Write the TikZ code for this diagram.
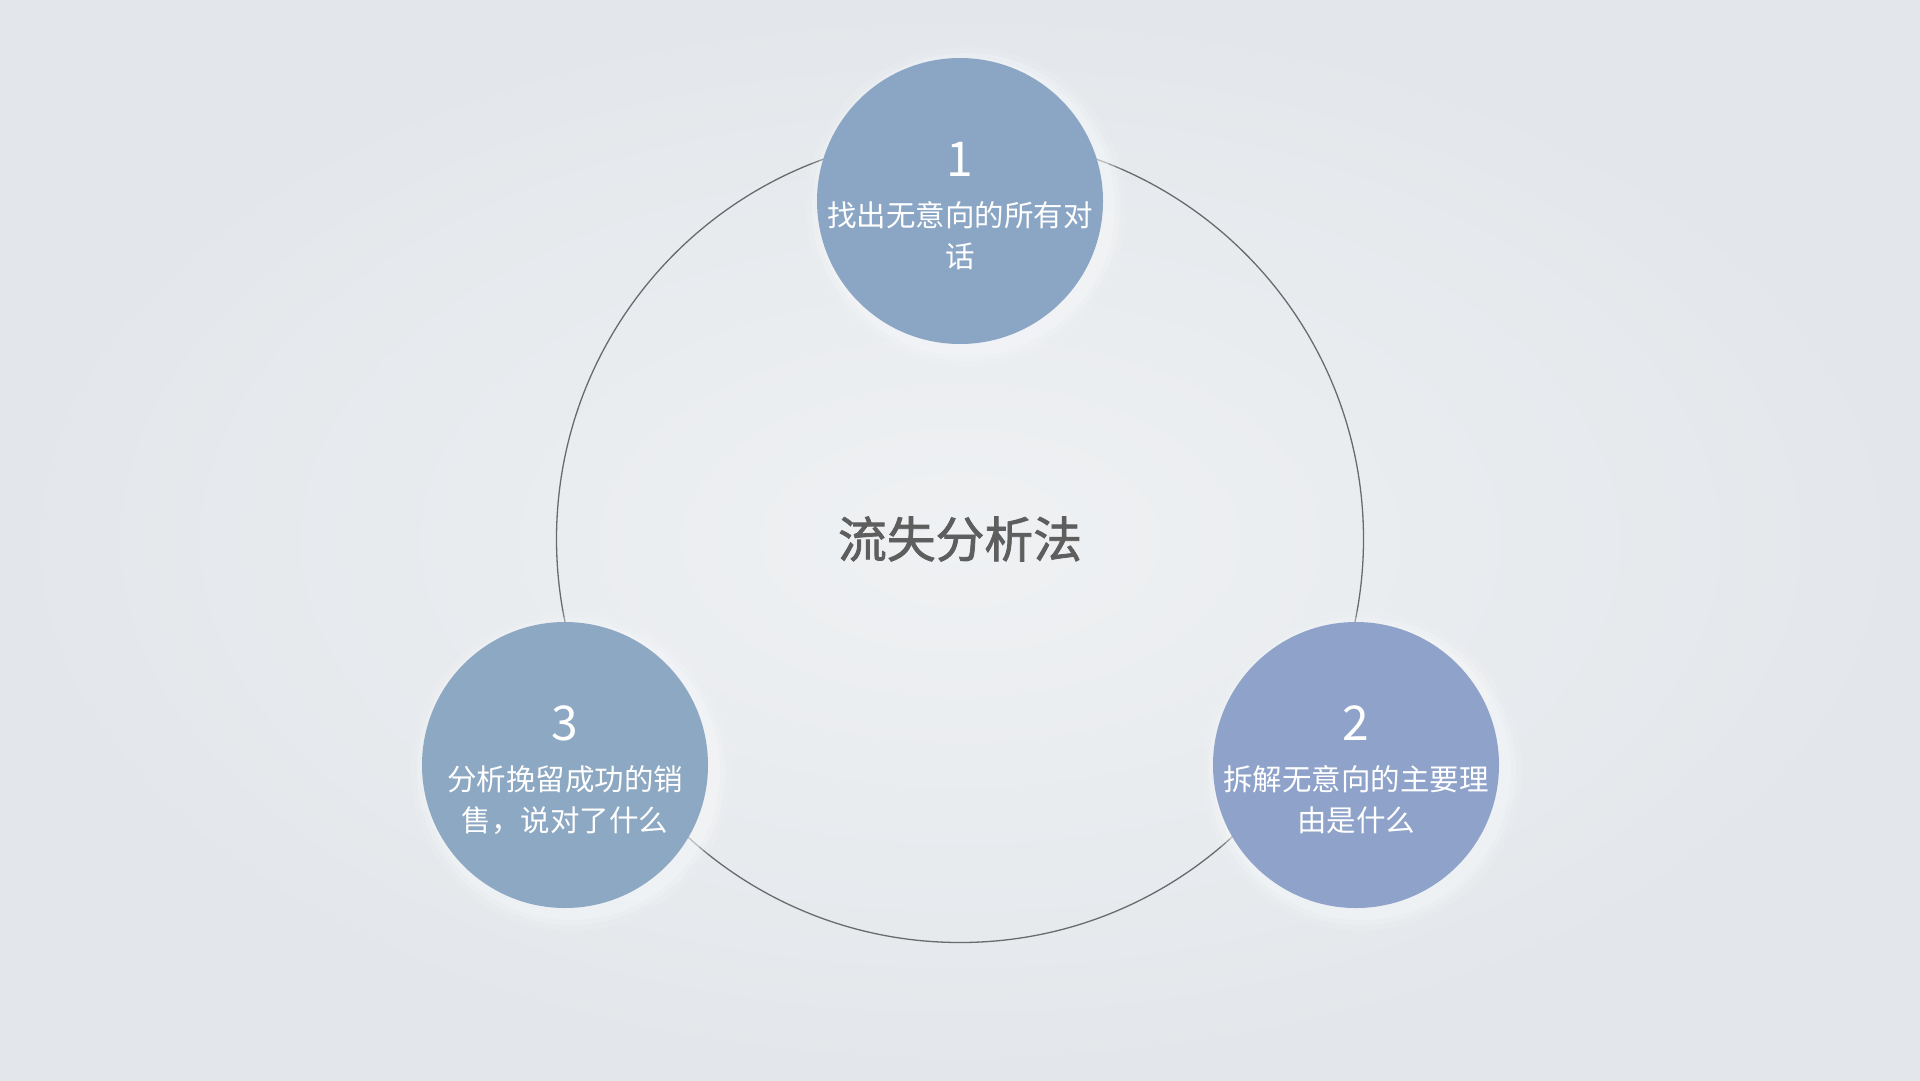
\documentclass[tikz,border=0pt]{standalone}
\usepackage{fontspec}
\setmainfont{Noto Sans CJK SC}
\newfontfamily\titlefont{Noto Sans CJK SC}[FakeBold=1.6]
\usetikzlibrary{shadings}
\definecolor{bgin}{HTML}{EFF1F3}
\definecolor{bgout}{HTML}{E3E7EB}
\definecolor{ringc}{HTML}{6A6A6A}
\definecolor{titlec}{HTML}{5E5E5E}
\definecolor{bubA}{HTML}{8AA6C4}
\definecolor{bubB}{HTML}{8FA3CA}
\definecolor{bubC}{HTML}{8DA8C2}
\definecolor{glowc}{HTML}{F6F8FA}
\tikzset{
  ring/.style={circle, draw=ringc, line width=1.3pt, minimum size=807pt, inner sep=0pt},
  bubble/.style={circle, minimum size=286pt, inner sep=0pt},
  numtext/.style={text=white, font=\fontsize{48}{56}\selectfont},
  bodytext/.style={text=white, align=center, font=\fontsize{29.5}{41}\selectfont},
  titletext/.style={text=titlec, font=\titlefont\fontsize{48.8}{56}\selectfont},
}
\begin{document}
\begin{tikzpicture}[x=1pt,y=-1pt]
  \useasboundingbox (0,0) rectangle (1920,1080);
  \shade[inner color=bgin, outer color=bgout] (0,0) rectangle (1920,1080);
  % big ring
  \node[ring] (ring) at (960,539) {};
  % soft glows behind bubbles
  \foreach \cx/\cy in {960/201, 1356/765, 565/765}{
    \foreach \r/\o in {160/0.15, 154/0.25, 149/0.35}{
      \fill[glowc, opacity=\o] (\cx+6,\cy+6) circle (\r);
    }
  }
  % bubbles
  \node[bubble, fill=bubA] (b1) at (960,201) {};
  \node[bubble, fill=bubB] (b2) at (1356,765) {};
  \node[bubble, fill=bubC] (b3) at (565,765) {};
  % texts
  \node[numtext] (n1) at ([yshift=42pt]b1.center) {1};
  \node[bodytext] (t1) at ([yshift=-35pt]b1.center) {找出无意向的所有对\\话};
  \node[numtext] (n2) at ([yshift=42pt]b2.center) {2};
  \node[bodytext] (t2) at ([yshift=-35pt]b2.center) {拆解无意向的主要理\\由是什么};
  \node[numtext] (n3) at ([yshift=42pt]b3.center) {3};
  \node[bodytext] (t3) at ([yshift=-35pt]b3.center) {分析挽留成功的销\\售，说对了什么};
  \node[titletext] (title) at (ring.center) {流失分析法};
\end{tikzpicture}
\end{document}
